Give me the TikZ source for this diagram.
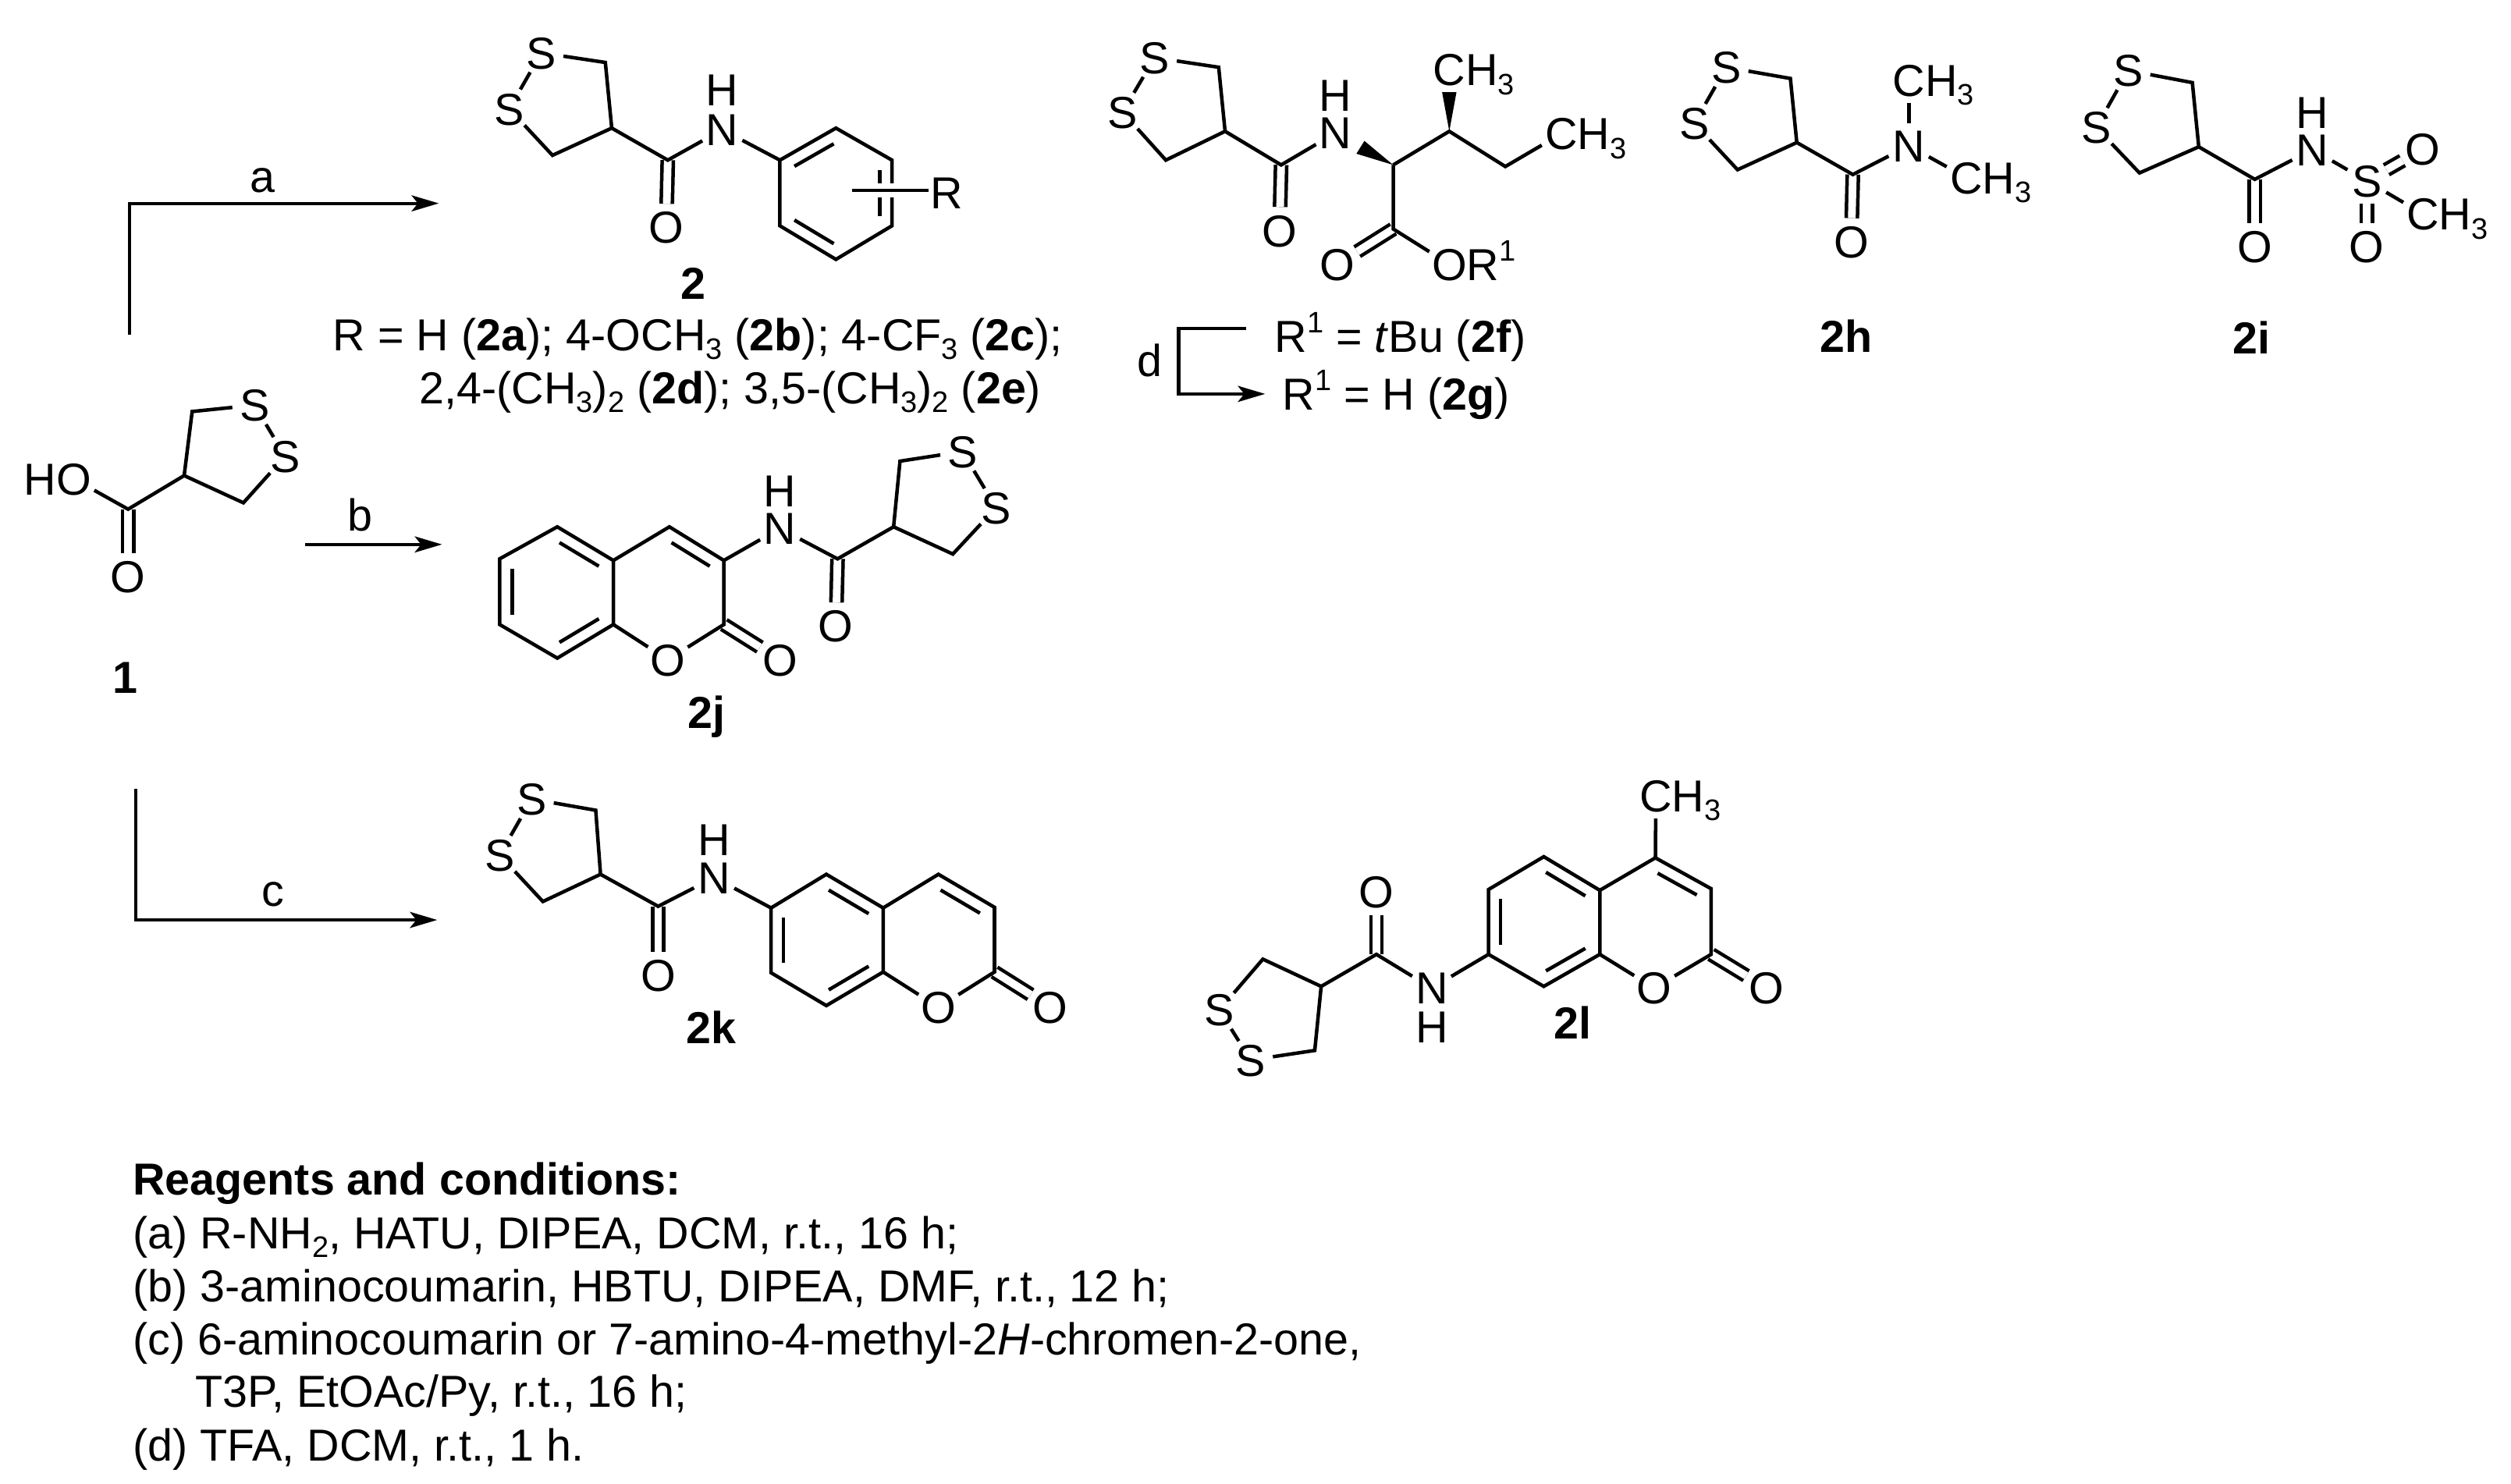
\documentclass[tikz,border=0pt]{standalone}
\usepackage{fontspec}
\setmainfont{Liberation Sans}
\usetikzlibrary{calc,arrows.meta}
\newcommand\sbs[1]{\raisebox{-5.5pt}{\fontsize{18.5}{18.5}\selectfont #1}}
\newcommand\sps[1]{\raisebox{12pt}{\fontsize{18.5}{18.5}\selectfont #1}}
\newcommand\dithio[1]{\draw[bond] (#1S1)--(#1c1)--(#1cm)--(#1c2)--(#1S2); \draw[bond] (#1S1)--(#1S2);}
\newcommand\amideL[1]{\draw[dbl] (#1co)--(#1O); \draw[bond] (#1cm)--(#1co)--(#1N);}
\newcommand\ringdbl[3]{\draw[bond] ($(#1)!.05!(#2)!.22!(#3)$) -- ($(#2)!.05!(#1)!.22!(#3)$);}
\tikzset{
  every node/.style={font=\fontsize{28}{33}\selectfont},
  atom/.style={circle,inner sep=0pt,outer sep=0pt,minimum size=28pt,text height=20pt,text depth=0pt},
  lbl/.style={inner sep=0pt,outer sep=0pt,text height=20pt,text depth=0pt,font=\fontsize{28}{33}\selectfont\bfseries},
  txt/.style={inner sep=0pt,outer sep=0pt,anchor=base west},
  rlab/.style={inner sep=0pt,outer sep=0pt,anchor=base},
  bond/.style={line width=2.2pt},
  dbl/.style={line width=2.2pt,double,double distance=4.8pt},
  rxn/.style={line width=2pt,-{Stealth[length=17pt,width=10pt,inset=4pt]}},
  halo/.style={line width=2.2pt,preaction={draw,white,line width=9pt}},
}
\begin{document}
\begin{tikzpicture}[x=1pt,y=-1pt]
\useasboundingbox[fill=white] (0,0) rectangle (1568,926.3);
% ---------- reaction arrows
\coordinate (a0) at (81,209); \coordinate (a1) at (274,127);
\draw[rxn] (a0) |- (a1);
\node[rlab] (la) at (164,120) {a};
\coordinate (b0) at (190.5,340); \coordinate (b1) at (276,340);
\draw[rxn] (b0) -- (b1);
\node[rlab] (lb) at (225,331.4) {b};
\coordinate (c0) at (85,492.5); \coordinate (c1) at (273,574.5);
\draw[rxn] (c0) |- (c1);
\node[rlab] (lc) at (170.5,566) {c};
\coordinate (d0) at (778,205); \coordinate (d1) at (736,205); \coordinate (d2) at (736,246); \coordinate (d3) at (790,246);
\draw[rxn] (d0) -- (d1) -- (d2) -- (d3);
\node[rlab] (ld) at (718,235) {d};
% ---------- 1
\node[atom] (PS1) at (159,253) {S};
\node[atom] (PS2) at (178,285) {S};
\coordinate (Pc1) at (120,257); \coordinate (Pcm) at (115,297); \coordinate (Pc2) at (152,314);
\coordinate (Pco) at (80,318);
\node[atom] (PO1) at (46,299) {\llap{H}O};
\node[atom] (PO) at (80,360) {O};
\draw[dbl] (Pco)--(PO);
\dithio{P}
\draw[bond] (Pcm)--(Pco)--(PO1);
\node[lbl] (l1) at (78,423) {1};
% ---------- 2
\node[atom] (AS1) at (338,33) {S};
\node[atom] (AS2) at (318,68) {S};
\coordinate (Ac1) at (378,39); \coordinate (Acm) at (382,80); \coordinate (Ac2) at (345,97);
\coordinate (Aco) at (417,100);
\node[atom] (AN) at (451,81) {N};
\node[atom] (AH) at (451,56) {H};
\node[atom] (AO) at (416,142) {O};
\coordinate (Ar1) at (487,100); \coordinate (Ar2) at (522,80); \coordinate (Ar3) at (557,100);
\coordinate (Ar4) at (557,141); \coordinate (Ar5) at (522,162); \coordinate (Ar6) at (487,141);
\coordinate (Arc) at (522,121);
\amideL{A}
\dithio{A}
\draw[bond] (AN)--(Ar1);
\draw[bond] (Ar1)--(Ar2)--(Ar3)--(Ar4)--(Ar5)--(Ar6)--cycle;
\ringdbl{Ar1}{Ar2}{Arc}
\ringdbl{Ar3}{Ar4}{Arc}
\ringdbl{Ar5}{Ar6}{Arc}
\node[atom] (AR) at (591,120.5) {R};
\coordinate (Arb) at (532,119); \coordinate (Arb2) at (580,119);
\draw[halo] (Arb) -- (Arb2);
\node[lbl] (l2) at (433,177) {2};
\node[txt] (t2a) at (208,219) {R = H (\textbf{2a}); 4-OCH\sbs{3} (\textbf{2b}); 4-CF\sbs{3} (\textbf{2c});};
\node[txt] (t2b) at (262,252) {2,4-(CH\sbs{3})\sbs{2} (\textbf{2d}); 3,5-(CH\sbs{3})\sbs{2} (\textbf{2e})};
% ---------- 2f/2g
\node[atom] (FS1) at (721,36) {S};
\node[atom] (FS2) at (701,70) {S};
\coordinate (Fc1) at (761,42); \coordinate (Fcm) at (765,82); \coordinate (Fc2) at (728,100);
\coordinate (Fco) at (800,103);
\node[atom] (FN) at (834,83) {N};
\node[atom] (FH) at (834,59.5) {H};
\node[atom] (FO) at (799,144) {O};
\coordinate (Fa) at (870,103); \coordinate (Fb) at (905,82); \coordinate (Fe) at (940,104);
\coordinate (Fcc) at (870,143);
\node[atom] (Fm1) at (905,43.5) {C\rlap{H\sbs{3}}};
\node[atom] (Fm2) at (975,83.5) {C\rlap{H\sbs{3}}};
\node[atom] (FO2) at (835,165) {O};
\node[atom] (FO3) at (905,165) {O\rlap{R\sps{1}}};
\amideL{F}
\dithio{F}
\draw[dbl] (Fcc)--(FO2);
\draw[bond] (Fa)--(Fb)--(Fe)--(Fm2);
\draw[bond] (Fa)--(Fcc)--(FO3);
\coordinate (Fw1) at (852,88); \coordinate (Fw2) at (847,96);
\fill (Fa)--(Fw1)--(Fw2)--cycle;
\coordinate (Fw3) at (900.5,57.5); \coordinate (Fw4) at (909.5,57.5);
\fill (Fb)--(Fw3)--(Fw4)--cycle;
\node[txt] (t2f) at (796,220) {R\sps{1} = \textit{t}Bu (\textbf{2f})};
\node[txt] (t2g) at (801,256) {R\sps{1} = H (\textbf{2g})};
% ---------- 2h
\node[atom] (HS1) at (1078,42) {S};
\node[atom] (HS2) at (1058,77) {S};
\coordinate (Hc1) at (1118,49); \coordinate (Hcm) at (1122,89); \coordinate (Hc2) at (1085,106);
\coordinate (Hco) at (1157,109);
\node[atom] (HN) at (1192,91) {N};
\node[atom] (HO) at (1156,151) {O};
\node[atom] (Hm1) at (1192,50) {C\rlap{H\sbs{3}}};
\node[atom] (Hm2) at (1228,111) {C\rlap{H\sbs{3}}};
\amideL{H}
\dithio{H}
\draw[bond] (HN)--(Hm1);
\draw[bond] (HN)--(Hm2);
\node[lbl] (l2h) at (1153,210) {2h};
% ---------- 2i
\node[atom] (IS1) at (1329,44) {S};
\node[atom] (IS2) at (1309,79.6) {S};
\coordinate (Ic1) at (1369,51.6); \coordinate (Icm) at (1373,91.7); \coordinate (Ic2) at (1336,108);
\coordinate (Ico) at (1408,112);
\node[atom] (IN) at (1444,93.4) {N};
\node[atom] (IH) at (1444,70) {H};
\node[atom] (IO) at (1408,154) {O};
\node[atom] (IS3) at (1478,113) {S};
\node[atom] (IO2) at (1513,93) {O};
\node[atom] (IO3) at (1478,154) {O};
\node[atom] (Im) at (1513,133.6) {C\rlap{H\sbs{3}}};
\amideL{I}
\dithio{I}
\draw[bond] (IN)--(IS3);
\draw[dbl] (IS3)--(IO2);
\draw[dbl] (IS3)--(IO3);
\draw[bond] (IS3)--(Im);
\node[lbl] (l2i) at (1406,211) {2i};
% ---------- 2j
\coordinate (Ja1) at (348,329); \coordinate (Ja2) at (383,350); \coordinate (Ja3) at (383,390);
\coordinate (Ja4) at (348,411); \coordinate (Ja5) at (312,390); \coordinate (Ja6) at (312,349);
\coordinate (Jac) at (348,370);
\coordinate (Jb1) at (418,329); \coordinate (Jb2) at (452,350); \coordinate (Jb3) at (452,390);
\coordinate (Jbc) at (418,370);
\node[atom] (JO1) at (417,412) {O};
\node[atom] (JO2) at (487,412) {O};
\node[atom] (JN) at (487,330) {N};
\node[atom] (JH) at (487,306.6) {H};
\coordinate (Jco) at (523,349);
\node[atom] (JO) at (522,391) {O};
\coordinate (Jcm) at (558,329); \coordinate (Jc1) at (562,288); \coordinate (Jc2) at (595,346);
\node[atom] (JS1) at (601,282) {S};
\node[atom] (JS2) at (622,317) {S};
\draw[dbl] (Jb3)--(JO2);
\draw[dbl] (Jco)--(JO);
\draw[bond] (Ja1)--(Ja2)--(Ja3)--(Ja4)--(Ja5)--(Ja6)--cycle;
\draw[bond] (Ja2)--(Jb1)--(Jb2)--(Jb3)--(JO1)--(Ja3);
\draw[bond] (Jb2)--(JN)--(Jco)--(Jcm);
\ringdbl{Ja1}{Ja2}{Jac}
\ringdbl{Ja3}{Ja4}{Jac}
\ringdbl{Ja5}{Ja6}{Jac}
\ringdbl{Jb1}{Jb2}{Jbc}
\dithio{J}
\node[lbl] (l2j) at (441,445) {2j};
% ---------- 2k
\node[atom] (KS1) at (332,499) {S};
\node[atom] (KS2) at (312,534) {S};
\coordinate (Kc1) at (372,506); \coordinate (Kcm) at (375,546); \coordinate (Kc2) at (339,563);
\coordinate (Kco) at (411,566);
\node[atom] (KO) at (411,609) {O};
\node[atom] (KN) at (446,548) {N};
\node[atom] (KH) at (446,524.5) {H};
\coordinate (Ka1) at (481.5,567); \coordinate (Ka2) at (516,546); \coordinate (Ka3) at (551.5,567);
\coordinate (Ka4) at (551.5,607); \coordinate (Ka5) at (516,628); \coordinate (Ka6) at (481.5,607.5);
\coordinate (Kac) at (516.5,587);
\coordinate (Kb1) at (586,546); \coordinate (Kb2) at (621,566.6); \coordinate (Kb3) at (621,607);
\coordinate (Kbc) at (586,587);
\node[atom] (KO1) at (586,629) {O};
\node[atom] (KO2) at (656,629) {O};
\draw[dbl] (Kb3)--(KO2);
\amideL{K}
\dithio{K}
\draw[bond] (KN)--(Ka1);
\draw[bond] (Ka1)--(Ka2)--(Ka3)--(Ka4)--(Ka5)--(Ka6)--cycle;
\draw[bond] (Ka3)--(Kb1)--(Kb2)--(Kb3)--(KO1)--(Ka4);
\ringdbl{Ka2}{Ka3}{Kac}
\ringdbl{Ka4}{Ka5}{Kac}
\ringdbl{Ka6}{Ka1}{Kac}
\ringdbl{Kb1}{Kb2}{Kbc}
\node[lbl] (l2k) at (444,641.6) {2k};
% ---------- 2l
\node[atom] (Lm) at (1034,497) {C\rlap{H\sbs{3}}};
\coordinate (La1) at (964,535); \coordinate (La2) at (999,556); \coordinate (La3) at (999,596);
\coordinate (La4) at (964,616); \coordinate (La5) at (929.5,596); \coordinate (La6) at (929.5,555.5);
\coordinate (Lac) at (964,575.5);
\coordinate (Lb1) at (1033.7,535.7); \coordinate (Lb2) at (1068.5,555); \coordinate (Lb3) at (1068.5,596);
\coordinate (Lbc) at (1034,576);
\node[atom] (LO1) at (1033,617) {O};
\node[atom] (LO2) at (1103,617) {O};
\node[atom] (LN) at (894,617) {N};
\node[atom] (LH) at (894,641) {H};
\coordinate (Lco) at (859.5,596);
\node[atom] (LO) at (859.5,557) {O};
\coordinate (Lcm) at (825,616); \coordinate (Lc1) at (788.6,599); \coordinate (Lc2) at (821,656);
\node[atom] (LS1) at (761.4,630.7) {S};
\node[atom] (LS2) at (781,662) {S};
\draw[dbl] (Lb3)--(LO2);
\amideL{L}
\dithio{L}
\draw[bond] (LN)--(La5);
\draw[bond] (La1)--(La2)--(La3)--(La4)--(La5)--(La6)--cycle;
\draw[bond] (La2)--(Lb1)--(Lb2)--(Lb3)--(LO1)--(La3);
\draw[bond] (Lb1)--(Lm);
\ringdbl{La1}{La2}{Lac}
\ringdbl{La3}{La4}{Lac}
\ringdbl{La5}{La6}{Lac}
\ringdbl{Lb1}{Lb2}{Lbc}
\node[lbl] (l2l) at (982,639) {2l};
% ---------- conditions
\node[txt,font=\fontsize{28}{33}\selectfont\bfseries] (rc) at (83,746.4) {Reagents and conditions:};
\node[txt] (ra) at (83,779.7) {(a) R-NH\sbs{2}, HATU, DIPEA, DCM, r.t., 16 h;};
\node[txt] (rb) at (83,813) {(b) 3-aminocoumarin, HBTU, DIPEA, DMF, r.t., 12 h;};
\node[txt] (rc1) at (83,846) {(c) 6-aminocoumarin or 7-amino-4-methyl-2\textit{H}-chromen-2-one,};
\node[txt] (rc2) at (122,878.8) {T3P, EtOAc/Py, r.t., 16 h;};
\node[txt] (rd) at (83,912.4) {(d) TFA, DCM, r.t., 1 h.};
\end{tikzpicture}
\end{document}
